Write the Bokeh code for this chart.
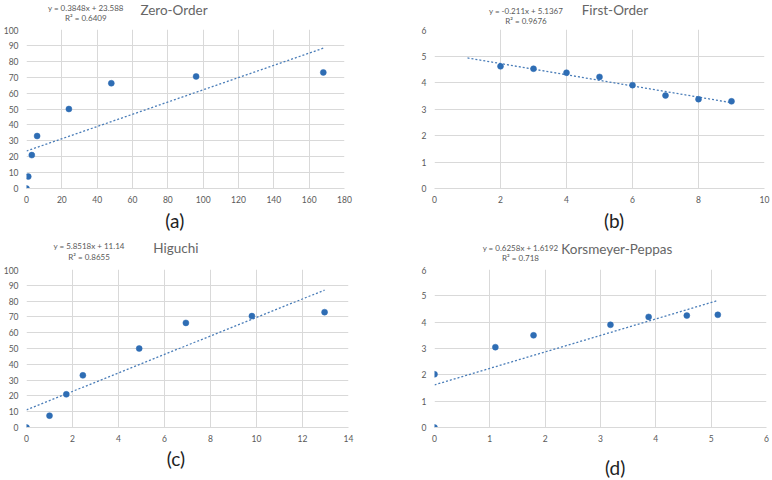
from bokeh.plotting import figure
from bokeh.models import Range1d, SingleIntervalTicker
from bokeh.core.properties import value
from bokeh.layouts import column, row
from bokeh.embed import file_html
from bokeh.resources import INLINE

# ---- data ----
zero_x = [0, 1, 3, 6, 24, 48, 96, 168]
zero_y = [0, 7.5, 21, 33, 50, 66.2, 70.5, 73]
first_x = [2, 3, 4, 5, 6, 7, 8, 9]
first_y = [4.61, 4.52, 4.37, 4.21, 3.90, 3.51, 3.37, 3.29]
hig_x = [0, 1, 1.73, 2.45, 4.9, 6.93, 9.8, 12.96]
hig_y = [0, 7.5, 21, 33, 50, 66.2, 70.5, 73]
kp_x = [0, 0, 1.1, 1.79, 3.18, 3.87, 4.56, 5.12]
kp_y = [0, 2.02, 3.05, 3.5, 3.9, 4.2, 4.25, 4.28]

titles = ["Zero-Order", "First-Order", "Higuchi", "Korsmeyer-Peppas"]
equations = ["y = 0.3848x + 23.588", "y = -0.211x + 5.1367",
             "y = 5.8518x + 11.14", "y = 0.6258x + 1.6192"]
r2_texts = ["R\u00b2 = 0.6409", "R\u00b2 = 0.9676", "R\u00b2 = 0.8655", "R\u00b2 = 0.718"]
panel_tags = ["(a)", "(b)", "(c)", "(d)"]
slopes = [0.3848, -0.211, 5.8518, 0.6258]
intercepts = [23.588, 5.1367, 11.14, 1.6192]
trend_start = [0, 1, 0, 0]
trend_end = [168, 9, 12.96, 5.12]
x_max = [180, 10, 14, 6]
x_step = [20, 2, 2, 1]
y_max = [100, 6, 100, 6]
y_step = [10, 1, 10, 1]

FONT = "Lato"
W = 386
PT = "#2E6DB4"
GRID = "#d9d9d9"
TXT = "#595959"
TITLE_C = "#666666"

# per panel: header height, chart frame height, footer height
HEADER_H = 26
frame_h = [159, 159, 158, 158]
footer_h = [32, 32, 33, 33]
CH_TOP, CH_BOTTOM = 3, 20
# chart left/right borders
lr_borders = [(25, 42), (48, 8), (25, 38), (48, 6)]
# text positions (px inside header / footer): title, eq, r2, tag
text_pos = [
    [(179, 9), (72, 7), (72, 17.5), (180, 12)],
    [(211, 9), (107, 10), (107, 20.5), (210, 11.5)],
    [(179, 7.5), (75, 5.7), (75, 16.7), (179, 11.3)],
    [(212, 8.3), (100, 7.3), (100, 17.3), (210, 20)],
]

datasets = [(zero_x, zero_y), (first_x, first_y), (hig_x, hig_y), (kp_x, kp_y)]


def text_strip(h):
    s = figure(width=W, height=h, output_backend="svg", toolbar_location=None,
               x_range=Range1d(0, W), y_range=Range1d(h, 0),
               x_axis_type=None, y_axis_type=None, min_border=0)
    s.outline_line_color = None
    s.grid.visible = False
    return s


def put_text(s, x, y, txt, size, color):
    s.text(x=[x], y=[y], text=[txt], text_font=value(FONT),
           text_font_size=value(size), text_font_style="normal",
           text_color=color, text_align="center", text_baseline="middle")


def make_panel(i):
    bl, br = lr_borders[i]
    tpos = text_pos[i]

    head = text_strip(HEADER_H)
    put_text(head, tpos[0][0], tpos[0][1], titles[i], "13.5px", TITLE_C)
    put_text(head, tpos[1][0], tpos[1][1], equations[i], "8px", TXT)
    put_text(head, tpos[2][0], tpos[2][1], r2_texts[i], "8px", TXT)

    p = figure(width=W, height=CH_TOP + frame_h[i] + CH_BOTTOM,
               output_backend="svg", toolbar_location=None,
               x_range=Range1d(0, x_max[i]), y_range=Range1d(0, y_max[i]),
               min_border_left=bl, min_border_right=br,
               min_border_top=CH_TOP, min_border_bottom=CH_BOTTOM)
    p.outline_line_color = None
    for ax in (p.xaxis, p.yaxis):
        ax.major_tick_line_color = None
        ax.minor_tick_line_color = None
        ax.major_tick_out = 0
        ax.major_tick_in = 0
        ax.minor_tick_out = 0
        ax.minor_tick_in = 0
        ax.axis_line_color = GRID
        ax.major_label_text_font = FONT
        ax.major_label_text_font_size = "8.5px"
        ax.major_label_text_color = TXT
    p.yaxis.axis_line_color = None
    p.xaxis.major_label_standoff = 7
    p.yaxis.major_label_standoff = 8
    p.xaxis.ticker = SingleIntervalTicker(interval=x_step[i])
    p.yaxis.ticker = SingleIntervalTicker(interval=y_step[i])
    p.xgrid.ticker = SingleIntervalTicker(interval=x_step[i])
    p.ygrid.ticker = SingleIntervalTicker(interval=y_step[i])
    p.xgrid.grid_line_color = GRID
    p.ygrid.grid_line_color = GRID

    xs, ys = datasets[i]
    tx = [trend_start[i], trend_end[i]]
    ty = [slopes[i] * v + intercepts[i] for v in tx]
    p.line(tx, ty, line_color="#4A7DB8", line_width=1.3, line_dash="2 2")
    p.scatter(xs, ys, size=6, fill_color=PT, line_color=PT, line_width=0.5)

    foot = text_strip(footer_h[i])
    put_text(foot, tpos[3][0], tpos[3][1], panel_tags[i], "19px", "#222222")

    return column(head, p, foot)


panels = [make_panel(i) for i in range(4)]
layout = column(row(panels[0], panels[1]), row(panels[2], panels[3]))
open("out.html", "w").write(file_html(layout, INLINE))
